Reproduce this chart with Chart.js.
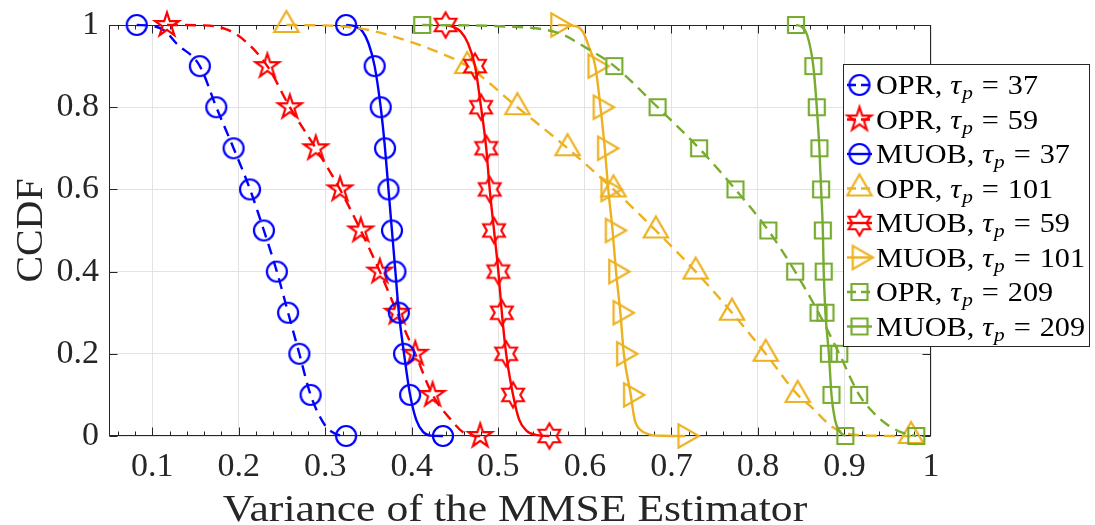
<!DOCTYPE html>
<html>
<head>
<meta charset="utf-8">
<title>CCDF of the MMSE estimator variance</title>
<script src="https://cdn.jsdelivr.net/npm/chart.js@4.4.1/dist/chart.umd.min.js"></script>
<style>
  html, body { margin: 0; padding: 0; background: #fff; }
  #wrap { width: 1095px; height: 525px; }
</style>
</head>
<body>
<div id="wrap"><canvas id="ccdfChart" width="1095" height="525"></canvas></div>
<script>
// CCDF levels that carry a marker on every curve
const ccdfLevels = [1, 0.9, 0.8, 0.7, 0.6, 0.5, 0.4, 0.3, 0.2, 0.1, 0];

// variance of the estimator at each of those levels
const oprTau37   = [0.082, 0.155, 0.174, 0.194, 0.213, 0.229, 0.244, 0.257, 0.270, 0.283, 0.324];
const oprTau59   = [0.117, 0.233, 0.259, 0.289, 0.317, 0.341, 0.363, 0.383, 0.404, 0.424, 0.479];
const muobTau37  = [0.324, 0.357, 0.364, 0.369, 0.373, 0.377, 0.381, 0.385, 0.391, 0.398, 0.436];
const oprTau101  = [0.255, 0.464, 0.522, 0.580, 0.633, 0.682, 0.728, 0.770, 0.809, 0.846, 0.977];
const muobTau59  = [0.439, 0.473, 0.480, 0.486, 0.490, 0.495, 0.500, 0.504, 0.509, 0.517, 0.559];
const muobTau101 = [0.569, 0.612, 0.618, 0.623, 0.627, 0.632, 0.636, 0.641, 0.645, 0.653, 0.716];
const oprTau209  = [0.412, 0.634, 0.684, 0.732, 0.774, 0.812, 0.843, 0.870, 0.894, 0.917, 0.983];
const muobTau209 = [0.844, 0.864, 0.868, 0.871, 0.873, 0.875, 0.876, 0.878, 0.882, 0.885, 0.901];

// extra [variance, ccdf] points along the upper and lower bends (no markers there)
const oprTau37Bends   = [[0.100, 0.998], [0.115, 0.985], [0.128, 0.955], [0.300, 0.025], [0.310, 0.007], [0.318, 0.001]];
const oprTau59Bends   = [[0.160, 0.999], [0.185, 0.990], [0.205, 0.965], [0.445, 0.040], [0.460, 0.008], [0.470, 0.001]];
const muobTau37Bends  = [[0.334, 0.997], [0.343, 0.984], [0.350, 0.955], [0.405, 0.040], [0.413, 0.010], [0.422, 0.001]];
const oprTau101Bends  = [[0.300, 0.999], [0.345, 0.990], [0.385, 0.968], [0.423, 0.940], [0.862, 0.070], [0.886, 0.022], [0.905, 0.005], [0.930, 0.001]];
const muobTau59Bends  = [[0.447, 0.996], [0.456, 0.985], [0.465, 0.955], [0.524, 0.040], [0.533, 0.012], [0.545, 0.002]];
const muobTau101Bends = [[0.590, 0.997], [0.598, 0.982], [0.605, 0.945], [0.6575, 0.040], [0.664, 0.015], [0.674, 0.004], [0.690, 0.0005]];
const oprTau209Bends  = [[0.500, 0.997], [0.570, 0.980], [0.601, 0.945], [0.929, 0.067], [0.948, 0.030], [0.967, 0.008]];
const muobTau209Bends = [[0.851, 0.995], [0.857, 0.975], [0.889, 0.040], [0.894, 0.012]];

const methods   = ["OPR", "OPR", "MUOB", "OPR", "MUOB", "MUOB", "OPR", "MUOB"];
const tauValues = [37, 59, 37, 101, 59, 101, 209, 209];

const seriesX     = [oprTau37, oprTau59, muobTau37, oprTau101, muobTau59, muobTau101, oprTau209, muobTau209];
const seriesBends = [oprTau37Bends, oprTau59Bends, muobTau37Bends, oprTau101Bends, muobTau59Bends, muobTau101Bends, oprTau209Bends, muobTau209Bends];

const xTickValues = [0.1, 0.2, 0.3, 0.4, 0.5, 0.6, 0.7, 0.8, 0.9, 1];
const yTickValues = [0, 0.2, 0.4, 0.6, 0.8, 1];

// look of each curve
const BLUE = "#0000ff", RED = "#ff0000", ORANGE = "#edb120", GREEN = "#77ac30";
const seriesStyle = [
    { color: BLUE,   dashed: true,  marker: "circle" },
    { color: RED,    dashed: true,  marker: "pentagram" },
    { color: BLUE,   dashed: false, marker: "circle" },
    { color: ORANGE, dashed: true,  marker: "triangleUp" },
    { color: RED,    dashed: false, marker: "hexagram" },
    { color: ORANGE, dashed: false, marker: "triangleRight" },
    { color: GREEN,  dashed: true,  marker: "square" },
    { color: GREEN,  dashed: false, marker: "square" }
];
const DASH = [11, 7];
const LINE_W = 2.4;
const AXIS_COLOR = "#262626";
const SERIF = '"Liberation Serif", "Times New Roman", serif';

// hollow marker drawn once into a small canvas, used as pointStyle
function makeMarker(shape, color) {
    const c = document.createElement("canvas");
    c.width = 38;
    c.height = 38;
    const g = c.getContext("2d");
    g.translate(19, 19);
    g.strokeStyle = color;
    g.lineWidth = 2.2;
    g.beginPath();
    const star = (n, outer, inner) => {
        for (let k = 0; k < 2 * n; k++) {
            const r = k % 2 ? inner : outer;
            const a = -Math.PI / 2 + k * Math.PI / n;
            k ? g.lineTo(r * Math.cos(a), r * Math.sin(a)) : g.moveTo(r * Math.cos(a), r * Math.sin(a));
        }
        g.closePath();
    };
    const tri = (start, r) => {
        for (let k = 0; k < 3; k++) {
            const a = start + k * 2 * Math.PI / 3;
            k ? g.lineTo(r * Math.cos(a), r * Math.sin(a)) : g.moveTo(r * Math.cos(a), r * Math.sin(a));
        }
        g.closePath();
    };
    if (shape === "circle") g.arc(0, 0, 10, 0, Math.PI * 2);
    else if (shape === "square") g.rect(-8, -8, 16, 16);
    else if (shape === "triangleUp") tri(-Math.PI / 2, 14);
    else if (shape === "triangleRight") tri(0, 13.5);
    else if (shape === "pentagram") star(5, 12.5, 12.5 * 0.382);
    else if (shape === "hexagram") star(6, 12.5, 12.5 / Math.sqrt(3));
    g.stroke();
    return c;
}

const markerImgs = seriesStyle.map(s => makeMarker(s.marker, s.color));

const datasets = seriesX.map((xs, i) => {
    const marks = xs.map((x, k) => ({ x: x, y: ccdfLevels[k], m: true }));
    const bends = seriesBends[i].map(p => ({ x: p[0], y: p[1], m: false }));
    const pts = marks.concat(bends).sort((a, b) => a.x - b.x);
    const st = seriesStyle[i];
    return {
        label: methods[i] + ", tau_p = " + tauValues[i],
        data: pts,
        showLine: true,
        borderColor: st.color,
        backgroundColor: "rgba(0,0,0,0)",
        borderWidth: LINE_W,
        borderDash: st.dashed ? DASH : [],
        cubicInterpolationMode: "monotone",
        pointStyle: markerImgs[i],
        pointRadius: ctx => (ctx.raw && ctx.raw.m ? 10 : 0),
        pointHoverRadius: 0,
        clip: false,
        order: seriesX.length - i
    };
});

// axes box, inward tick marks, axis titles and the legend
const framePlugin = {
    id: "frame",
    beforeDatasetsDraw(chart) {
        const { ctx, chartArea: a, scales: { x, y } } = chart;
        const L = Math.round(a.left) + 0.5, R = Math.round(a.right) - 0.5;
        const T = Math.round(a.top) + 0.5, B = Math.round(a.bottom) - 0.5;
        ctx.save();
        ctx.strokeStyle = AXIS_COLOR;
        ctx.lineWidth = 1;
        ctx.beginPath();
        // minor ticks every 0.02 on the variance axis
        for (let k = 3; k < 50; k++) {
            const px = Math.round(x.getPixelForValue(k * 0.02)) + 0.5;
            const len = k % 5 === 0 ? 8 : 4;
            ctx.moveTo(px, B); ctx.lineTo(px, B - len);
            ctx.moveTo(px, T); ctx.lineTo(px, T + len);
        }
        yTickValues.forEach(v => {
            const py = Math.round(y.getPixelForValue(v)) + 0.5;
            ctx.moveTo(L, py); ctx.lineTo(L + 8, py);
            ctx.moveTo(R, py); ctx.lineTo(R - 8, py);
        });
        ctx.stroke();
        ctx.strokeRect(L, T, R - L, B - T);
        ctx.restore();
    },
    afterDraw(chart) {
        const { ctx, chartArea: a } = chart;
        ctx.save();
        ctx.fillStyle = AXIS_COLOR;
        ctx.textBaseline = "alphabetic";
        ctx.textAlign = "center";

        // x-axis title
        ctx.save();
        ctx.font = "37px " + SERIF;
        ctx.translate((a.left + a.right) / 2 - 5, 521);
        ctx.scale(1.18, 1);
        ctx.fillText("Variance of the MMSE Estimator", 0, 0);
        ctx.restore();

        // y-axis title
        ctx.save();
        ctx.font = "38px " + SERIF;
        ctx.translate(42, (a.top + a.bottom) / 2);
        ctx.rotate(-Math.PI / 2);
        ctx.scale(1.05, 1);
        ctx.fillText("CCDF", 0, 0);
        ctx.restore();

        // legend
        const bx = 843.5, by = 64.5, bw = 246, bh = 282;
        ctx.fillStyle = "#ffffff";
        ctx.fillRect(bx, by, bw, bh);
        ctx.strokeStyle = AXIS_COLOR;
        ctx.lineWidth = 1;
        ctx.strokeRect(bx, by, bw, bh);

        ctx.textAlign = "left";
        methods.forEach((m, i) => {
            const cy = 85 + i * 34.5;
            const st = seriesStyle[i];
            ctx.save();
            ctx.strokeStyle = st.color;
            ctx.lineWidth = LINE_W;
            ctx.setLineDash(st.dashed ? [9, 5] : []);
            ctx.beginPath();
            ctx.moveTo(847, cy);
            ctx.lineTo(872, cy);
            ctx.stroke();
            ctx.restore();
            ctx.drawImage(markerImgs[i], 859.5 - 19, cy - 19);

            ctx.save();
            ctx.fillStyle = "#000000";
            ctx.translate(876, cy + 9);
            ctx.scale(1.12, 1);
            let tx = 0;
            ctx.font = "27px " + SERIF;
            ctx.fillText(m + ",", tx, 0);
            tx += ctx.measureText(m + ",").width + 7;
            ctx.font = "italic 27px " + SERIF;
            ctx.fillText("\u03c4", tx, 0);
            tx += ctx.measureText("\u03c4").width + 1;
            ctx.font = "italic 19px " + SERIF;
            ctx.fillText("p", tx, 5);
            tx += ctx.measureText("p").width + 8;
            ctx.font = "27px " + SERIF;
            ctx.fillText("=", tx, 0);
            tx += ctx.measureText("=").width + 8;
            ctx.fillText(String(tauValues[i]), tx, 0);
            ctx.restore();
        });
        ctx.restore();
    }
};

const tickLabel = v => String(Number(v.toFixed(2)));

new Chart(document.getElementById("ccdfChart").getContext("2d"), {
    type: "scatter",
    data: { datasets: datasets },
    options: {
        responsive: false,
        animation: false,
        events: [],
        devicePixelRatio: 1,
        layout: { padding: { top: 25, right: 164, left: 0, bottom: 0 } },
        plugins: {
            legend: { display: false },
            tooltip: { enabled: false }
        },
        scales: {
            x: {
                type: "linear",
                min: 0.05,
                max: 1,
                afterBuildTicks: s => { s.ticks = xTickValues.map(v => ({ value: v })); },
                afterFit: s => { s.height = 89; s.paddingLeft = 0; s.paddingRight = 0; },
                grid: { color: "#e3e3e3", lineWidth: 1, drawTicks: false },
                border: { display: false },
                ticks: {
                    autoSkip: false,
                    maxRotation: 0,
                    padding: 11,
                    color: AXIS_COLOR,
                    font: { family: SERIF, size: 34 },
                    callback: tickLabel
                }
            },
            y: {
                type: "linear",
                min: 0,
                max: 1,
                afterBuildTicks: s => { s.ticks = yTickValues.map(v => ({ value: v })); },
                afterFit: s => { s.width = 109; s.paddingTop = 0; s.paddingBottom = 0; },
                grid: { color: "#e3e3e3", lineWidth: 1, drawTicks: false },
                border: { display: false },
                ticks: {
                    autoSkip: false,
                    padding: 10,
                    color: AXIS_COLOR,
                    font: { family: SERIF, size: 34 },
                    callback: tickLabel
                }
            }
        }
    },
    plugins: [framePlugin]
});
</script>
</body>
</html>
